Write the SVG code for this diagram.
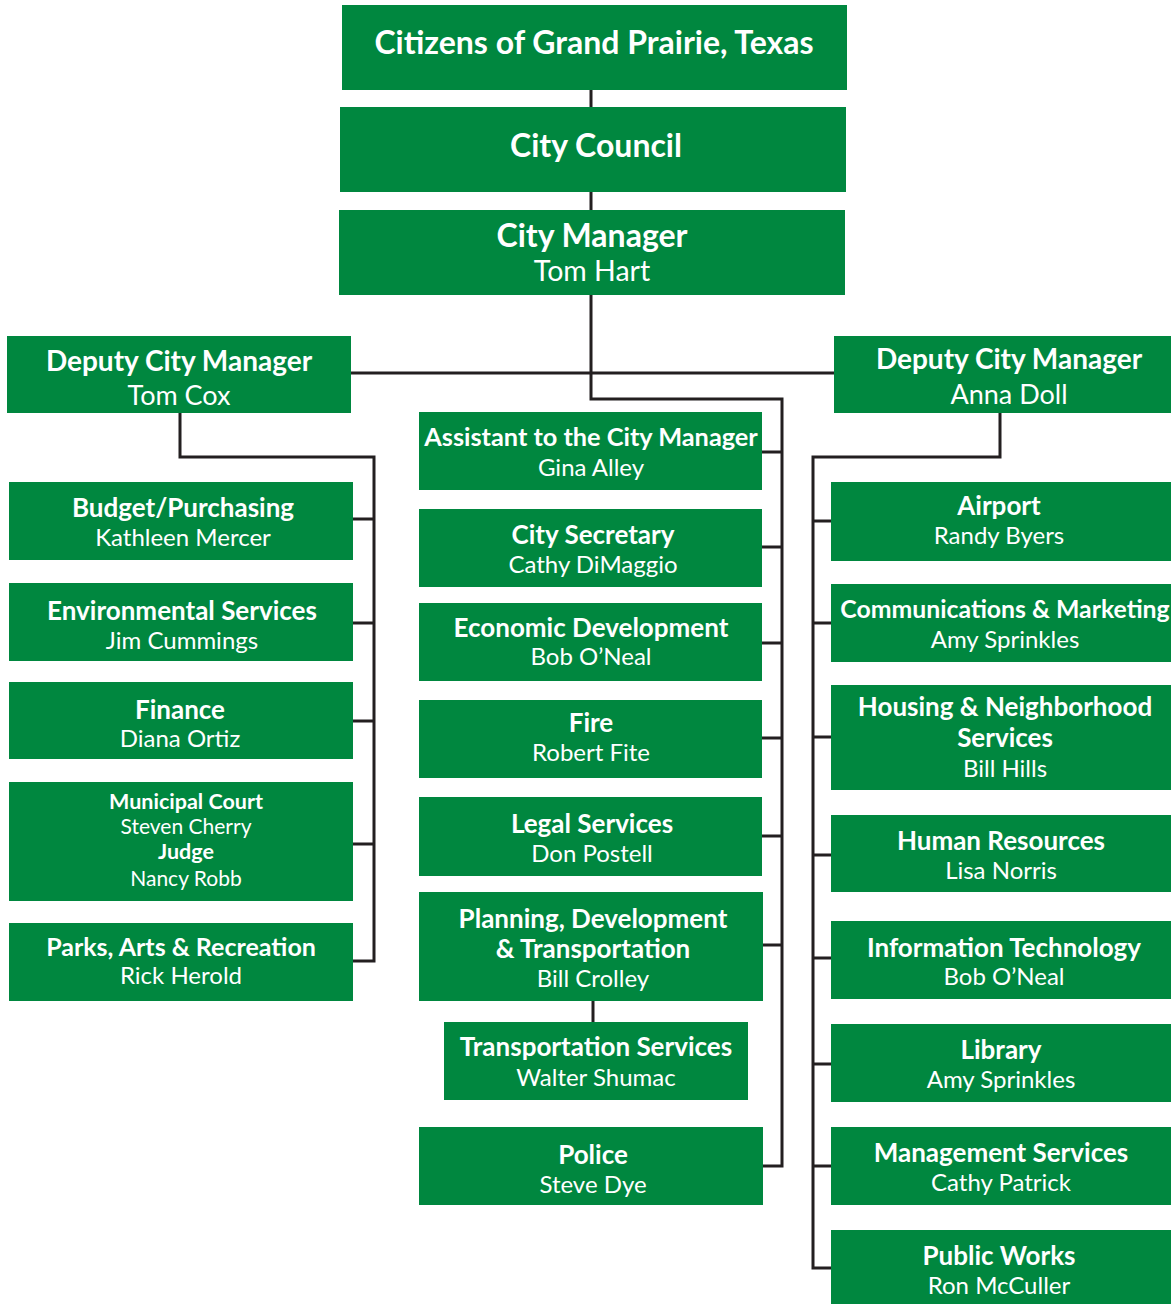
<svg xmlns="http://www.w3.org/2000/svg" width="1171" height="1304" viewBox="0 0 1171 1304">
<style>
.box{fill:#00873f}
.t{font-family:Lato,"Liberation Sans",sans-serif;fill:#fff;text-anchor:middle;dominant-baseline:central}
.b{font-weight:bold;font-size:26px}
.n{font-weight:normal;font-size:24px}
.big{font-weight:bold;font-size:32px}
.dep{font-weight:bold;font-size:28px}
.depn{font-weight:normal;font-size:27px}
.smb{font-weight:bold;font-size:21.5px}
.smn{font-weight:normal;font-size:21px}
.ln{stroke:#231f20;stroke-width:3;fill:none}
</style>
<rect width="1171" height="1304" fill="#fff"/>
<g id="connectors">
<path class="ln" d="M591 90V107M591 192V210M591 295V399H782V1166H763"/>
<path class="ln" d="M351 373H834"/>
<path class="ln" d="M180 413V457H374V961H353M353 519H374M353 623H374M353 721H374M353 844H374"/>
<path class="ln" d="M762 452H782M762 547H782M762 643H782M762 738H782M762 836H782M762 945H782"/>
<path class="ln" d="M593 1001V1022"/>
<path class="ln" d="M1000 413V457H813V1268H831M813 521H831M813 623H831M813 737H831M813 855H831M813 958H831M813 1064H831M813 1166H831"/>
</g>
<g id="citizens"><rect class="box" x="342" y="5" width="505" height="85"/><text class="t big" x="594" y="41">Citizens of Grand Prairie, Texas</text></g>
<g id="council"><rect class="box" x="340" y="107" width="506" height="85"/><text class="t big" x="596" y="144">City Council</text></g>
<g id="manager"><rect class="box" x="339" y="210" width="506" height="85"/><text class="t big" x="592" y="234">City Manager</text><text class="t" style="font-size:28.5px" x="592" y="270">Tom Hart</text></g>
<g id="dcm-left"><rect class="box" x="7" y="336" width="344" height="77"/><text class="t dep" x="179" y="360">Deputy City Manager</text><text class="t depn" x="179" y="394">Tom Cox</text></g>
<g id="dcm-right"><rect class="box" x="834" y="336" width="337" height="77"/><text class="t dep" x="1009" y="358">Deputy City Manager</text><text class="t depn" x="1009" y="393">Anna Doll</text></g>

<g id="budget"><rect class="box" x="9" y="482" width="344" height="78"/><text class="t b" x="183" y="507">Budget/Purchasing</text><text class="t n" x="183" y="536">Kathleen Mercer</text></g>
<g id="env"><rect class="box" x="9" y="583" width="344" height="78"/><text class="t b" x="182" y="610">Environmental Services</text><text class="t n" x="182" y="639">Jim Cummings</text></g>
<g id="finance"><rect class="box" x="9" y="682" width="344" height="77"/><text class="t b" x="180" y="709">Finance</text><text class="t n" x="180" y="737">Diana Ortiz</text></g>
<g id="court"><rect class="box" x="9" y="782" width="344" height="119"/><text class="t smb" x="186" y="801">Municipal Court</text><text class="t smn" x="186" y="825">Steven Cherry</text><text class="t smb" x="186" y="851">Judge</text><text class="t smn" x="186" y="877">Nancy Robb</text></g>
<g id="parks"><rect class="box" x="9" y="923" width="344" height="78"/><text class="t b" style="font-size:25px" x="181" y="946">Parks, Arts &amp; Recreation</text><text class="t n" x="181" y="974">Rick Herold</text></g>

<g id="assistant"><rect class="box" x="419" y="412" width="343" height="78"/><text class="t b" style="font-size:25.3px" x="591" y="436">Assistant to the City Manager</text><text class="t n" x="591" y="466">Gina Alley</text></g>
<g id="secretary"><rect class="box" x="419" y="509" width="343" height="78"/><text class="t b" x="593" y="534">City Secretary</text><text class="t n" x="593" y="563">Cathy DiMaggio</text></g>
<g id="econ"><rect class="box" x="419" y="603" width="343" height="78"/><text class="t b" x="591" y="627">Economic Development</text><text class="t n" x="591" y="655">Bob O’Neal</text></g>
<g id="fire"><rect class="box" x="419" y="700" width="343" height="78"/><text class="t b" x="591" y="722">Fire</text><text class="t n" x="591" y="751">Robert Fite</text></g>
<g id="legal"><rect class="box" x="419" y="797" width="343" height="79"/><text class="t b" x="592" y="823">Legal Services</text><text class="t n" x="592" y="852">Don Postell</text></g>
<g id="planning"><rect class="box" x="419" y="892" width="344" height="109"/><text class="t b" x="593" y="918">Planning, Development</text><text class="t b" x="593" y="948">&amp; Transportation</text><text class="t n" x="593" y="977">Bill Crolley</text></g>
<g id="transport"><rect class="box" x="444" y="1022" width="304" height="78"/><text class="t b" x="596" y="1046">Transportation Services</text><text class="t n" x="596" y="1076">Walter Shumac</text></g>
<g id="police"><rect class="box" x="419" y="1127" width="344" height="78"/><text class="t b" x="593" y="1154">Police</text><text class="t n" x="593" y="1183">Steve Dye</text></g>

<g id="airport"><rect class="box" x="831" y="482" width="340" height="79"/><text class="t b" x="999" y="505">Airport</text><text class="t n" x="999" y="534">Randy Byers</text></g>
<g id="comms"><rect class="box" x="831" y="584" width="340" height="78"/><text class="t b" style="font-size:24.8px" x="1005" y="608">Communications &amp; Marketing</text><text class="t n" x="1005" y="638">Amy Sprinkles</text></g>
<g id="housing"><rect class="box" x="831" y="685" width="340" height="105"/><text class="t b" x="1005" y="706">Housing &amp; Neighborhood</text><text class="t b" x="1005" y="737">Services</text><text class="t n" x="1005" y="767">Bill Hills</text></g>
<g id="hr"><rect class="box" x="831" y="815" width="340" height="77"/><text class="t b" x="1001" y="840">Human Resources</text><text class="t n" x="1001" y="869">Lisa Norris</text></g>
<g id="it"><rect class="box" x="831" y="921" width="340" height="78"/><text class="t b" x="1004" y="947">Information Technology</text><text class="t n" x="1004" y="975">Bob O’Neal</text></g>
<g id="library"><rect class="box" x="831" y="1024" width="340" height="78"/><text class="t b" x="1001" y="1049">Library</text><text class="t n" x="1001" y="1078">Amy Sprinkles</text></g>
<g id="mgmt"><rect class="box" x="831" y="1127" width="340" height="78"/><text class="t b" x="1001" y="1152">Management Services</text><text class="t n" x="1001" y="1181">Cathy Patrick</text></g>
<g id="publicworks"><rect class="box" x="831" y="1230" width="340" height="74"/><text class="t b" x="999" y="1255">Public Works</text><text class="t n" x="999" y="1284">Ron McCuller</text></g>
</svg>
